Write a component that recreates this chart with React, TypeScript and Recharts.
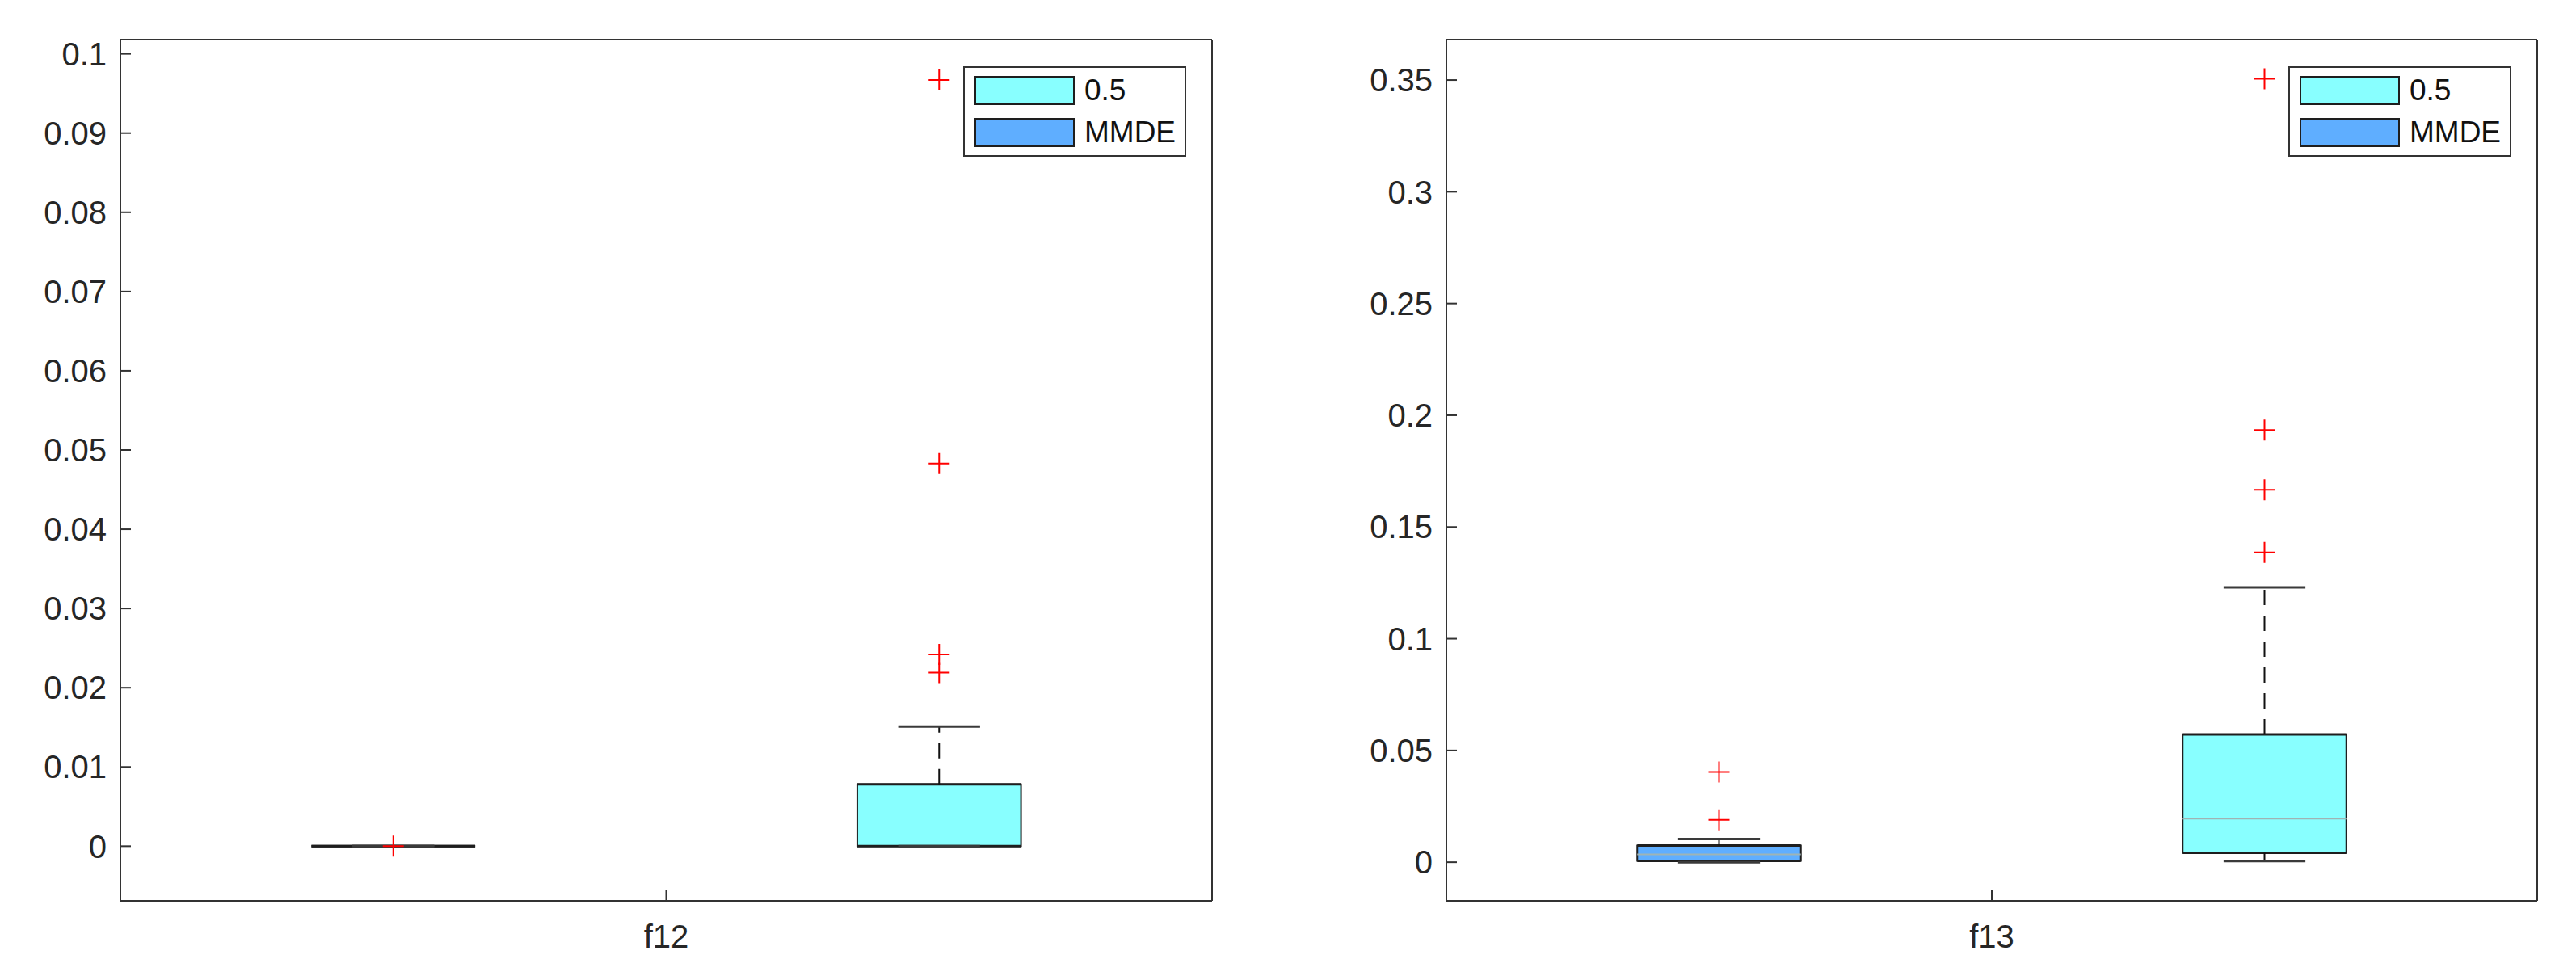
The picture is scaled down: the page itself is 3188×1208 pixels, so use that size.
import {
  ComposedChart,
  XAxis,
  YAxis,
  ReferenceArea,
  ReferenceLine,
  Scatter,
  Legend,
} from "recharts";

// groups drawn left to right inside each panel
const groups = ["MMDE", "0.5"];
// legend order (top to bottom)
const legendNames = ["0.5", "MMDE"];

// ---- f12 ----
const f12Label = "f12";
const f12Ticks = [0, 0.01, 0.02, 0.03, 0.04, 0.05, 0.06, 0.07, 0.08, 0.09, 0.1];
const f12Domain = [-0.0069, 0.1018];
const f12Low = [0, 0];
const f12Q1 = [0, 0];
const f12Median = [0, 0];
const f12Q3 = [0, 0.0078];
const f12High = [0, 0.0151];
const f12Outliers = [[0], [0.0219, 0.0242, 0.0483, 0.0967]];

// ---- f13 ----
const f13Label = "f13";
const f13Ticks = [0, 0.05, 0.1, 0.15, 0.2, 0.25, 0.3, 0.35];
const f13Domain = [-0.0173, 0.3681];
const f13Low = [0, 0.0005];
const f13Q1 = [0.0006, 0.0042];
const f13Median = [0.0035, 0.0195];
const f13Q3 = [0.0075, 0.0572];
const f13High = [0.0104, 0.123];
const f13Outliers = [[0.0189, 0.0404], [0.1386, 0.1666, 0.1934, 0.3506]];

const FILL: Record<string, string> = { MMDE: "#5FAEFF", "0.5": "#88FFFF" };
const FONT = "'Liberation Sans', Arial, Helvetica, sans-serif";
const AXIS = "#333333";
const EDGE = "#1e1e1e";
const HALF_BOX = 0.15;
const HALF_CAP = 0.075;

function Plus(props: any) {
  const { cx, cy } = props;
  if (cx == null || cy == null) return null;
  return (
    <path
      d={`M${cx - 13},${cy}H${cx + 13}M${cx},${cy - 13}V${cy + 13}`}
      stroke="#FF0000"
      strokeWidth={2}
      fill="none"
    />
  );
}

function LegendBox() {
  return (
    <div
      style={{
        position: "relative",
        width: 276,
        height: 112,
        boxSizing: "border-box",
        border: `2px solid ${AXIS}`,
        background: "#fff",
        fontFamily: FONT,
      }}
    >
      {legendNames.map((name, i) => (
        <div key={name}>
          <div
            style={{
              position: "absolute",
              left: 12,
              top: 10 + i * 52,
              width: 124,
              height: 36,
              boxSizing: "border-box",
              border: `2px solid ${EDGE}`,
              background: FILL[name],
            }}
          />
          <div
            style={{
              position: "absolute",
              left: 148,
              top: 7 + i * 52,
              fontSize: 37,
              lineHeight: "42px",
              color: "#111",
            }}
          >
            {name}
          </div>
        </div>
      ))}
    </div>
  );
}

type PanelProps = {
  label: string;
  ticks: number[];
  domain: number[];
  low: number[];
  q1: number[];
  median: number[];
  q3: number[];
  high: number[];
  outliers: number[][];
  width: number;
  leftAxis: number;
  rightAxis: number;
};

function BoxPanel(p: PanelProps) {
  const height = 1208;
  const top = 49;
  const bottom = 93;
  const fmt = (v: number) => String(+v.toFixed(4));
  const pts = p.outliers.flatMap((vals, i) => vals.map((v) => ({ x: i, y: v })));
  const plotRight = p.width - p.rightAxis;

  return (
    <ComposedChart
      width={p.width}
      height={height}
      margin={{ top: 0, right: 0, bottom: 0, left: 0 }}
    >
      <XAxis
        xAxisId={0}
        type="number"
        dataKey="x"
        domain={[-0.5, 1.5]}
        ticks={[0.5]}
        tickFormatter={() => p.label}
        allowDataOverflow
        height={bottom}
        axisLine={{ stroke: AXIS, strokeWidth: 2 }}
        tickLine={{ stroke: AXIS, strokeWidth: 2 }}
        tickSize={-13}
        tickMargin={43}
        tick={{ fontSize: 40, fill: "#262626", fontFamily: FONT }}
      />
      <XAxis
        xAxisId="top"
        orientation="top"
        type="number"
        domain={[-0.5, 1.5]}
        ticks={[0.5]}
        allowDataOverflow
        height={top}
        axisLine={{ stroke: AXIS, strokeWidth: 2 }}
        tickLine={{ stroke: AXIS, strokeWidth: 2 }}
        tickSize={-13}
        tick={false}
      />
      <YAxis
        yAxisId={0}
        type="number"
        dataKey="y"
        domain={p.domain}
        ticks={p.ticks}
        tickFormatter={fmt}
        allowDataOverflow
        width={p.leftAxis}
        axisLine={{ stroke: AXIS, strokeWidth: 2 }}
        tickLine={{ stroke: AXIS, strokeWidth: 2 }}
        tickSize={-13}
        tickMargin={30}
        tick={{ fontSize: 40, fill: "#262626", fontFamily: FONT }}
        interval={0}
      />
      <YAxis
        yAxisId="right"
        orientation="right"
        type="number"
        domain={p.domain}
        ticks={p.ticks}
        allowDataOverflow
        width={p.rightAxis}
        axisLine={{ stroke: AXIS, strokeWidth: 2 }}
        tickLine={{ stroke: AXIS, strokeWidth: 2 }}
        tickSize={-13}
        tick={false}
        interval={0}
      />

      {/* boxes */}
      {groups.map((g, i) => (
        <ReferenceArea
          key={`box-${g}`}
          x1={i - HALF_BOX}
          x2={i + HALF_BOX}
          y1={p.q1[i]}
          y2={p.q3[i]}
          fill={FILL[g]}
          fillOpacity={1}
          stroke={EDGE}
          strokeWidth={2}
        />
      ))}

      {/* medians */}
      {groups.map((g, i) => (
        <ReferenceLine
          key={`med-${g}`}
          segment={[
            { x: i - HALF_BOX, y: p.median[i] },
            { x: i + HALF_BOX, y: p.median[i] },
          ]}
          stroke="#9fb4b4"
          strokeWidth={2}
        />
      ))}

      {/* box top / bottom edges (also covers collapsed boxes) */}
      {groups.map((g, i) =>
        [p.q1[i], p.q3[i]].map((v, k) => (
          <ReferenceLine
            key={`edge-${g}-${k}`}
            segment={[
              { x: i - HALF_BOX, y: v },
              { x: i + HALF_BOX, y: v },
            ]}
            stroke={EDGE}
            strokeWidth={3}
          />
        ))
      )}

      {/* whiskers */}
      {groups.map((g, i) =>
        [
          [p.q3[i], p.high[i]],
          [p.low[i], p.q1[i]],
        ]
          .filter(([a, b]) => b > a)
          .map(([a, b], k) => (
            <ReferenceLine
              key={`wh-${g}-${k}`}
              segment={[
                { x: i, y: a },
                { x: i, y: b },
              ]}
              stroke="#111"
              strokeWidth={2}
              strokeDasharray="19 13"
            />
          ))
      )}

      {/* whisker caps */}
      {groups.map((g, i) =>
        [p.low[i], p.high[i]].map((v, k) => (
          <ReferenceLine
            key={`cap-${g}-${k}`}
            segment={[
              { x: i - HALF_CAP, y: v },
              { x: i + HALF_CAP, y: v },
            ]}
            stroke="#3a3a3a"
            strokeWidth={3}
          />
        ))
      )}

      <Scatter
        data={pts}
        dataKey="y"
        shape={<Plus />}
        isAnimationActive={false}
        legendType="none"
      />

      <Legend
        layout="horizontal"
        verticalAlign="middle"
        align="center"
        wrapperStyle={{
          left: plotRight - 32 - 276,
          top: 82,
          width: 276,
          height: 112,
        }}
        content={() => <LegendBox />}
      />
    </ComposedChart>
  );
}

export default function App() {
  return (
    <div style={{ display: "flex", width: 3188, height: 1208, background: "#fff" }}>
      <style>{"body{margin:0;background:#fff}"}</style>
      <BoxPanel
        label={f12Label}
        ticks={f12Ticks}
        domain={f12Domain}
        low={f12Low}
        q1={f12Q1}
        median={f12Median}
        q3={f12Q3}
        high={f12High}
        outliers={f12Outliers}
        width={1594}
        leftAxis={149}
        rightAxis={94}
      />
      <BoxPanel
        label={f13Label}
        ticks={f13Ticks}
        domain={f13Domain}
        low={f13Low}
        q1={f13Q1}
        median={f13Median}
        q3={f13Q3}
        high={f13High}
        outliers={f13Outliers}
        width={1594}
        leftAxis={196}
        rightAxis={48}
      />
    </div>
  );
}
